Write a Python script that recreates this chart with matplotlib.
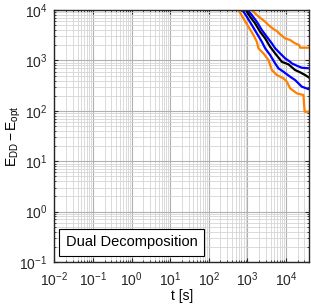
import numpy as np
import matplotlib
matplotlib.use("Agg")
import matplotlib.pyplot as plt
from matplotlib.ticker import LogLocator, NullFormatter

plt.rcParams['font.family'] = ['Liberation Sans', 'DejaVu Sans']
plt.rcParams['mathtext.fontset'] = 'custom'
plt.rcParams['mathtext.rm'] = 'Liberation Sans'
plt.rcParams['mathtext.it'] = 'Liberation Sans:italic'

# curves (t in seconds, E_DD - E_opt)
t_orange_hi = [1100, 1300, 1750, 2360, 2880, 3500, 4720, 5780, 7030, 9480, 12800, 17200, 21900, 23200, 31300, 40000]
e_orange_hi = [12000, 10000, 7960, 6620, 5860, 5040, 4200, 3830, 3300, 2740, 2540, 2180, 2020, 1790, 1790, 1790]

t_blue_hi = [900, 1020, 1300, 1750, 2360, 3180, 4290, 5220, 7030, 9480, 12800, 14100, 19100, 25700, 40000]
e_blue_hi = [12000, 10000, 7960, 5860, 4010, 2950, 2180, 1740, 1380, 1100, 940, 875, 785, 716, 697]

t_black = [800, 910, 1175, 1580, 2130, 2880, 3870, 5220, 7780, 11500, 17200, 23200, 31300, 40000]
e_black = [12000, 10000, 7360, 5440, 3710, 2740, 1870, 1380, 940, 837, 645, 581, 513, 454]

t_blue_lo = [650, 742, 964, 1300, 1750, 2360, 2880, 3870, 5220, 6360, 8570, 12800, 17200, 25700, 40000]
e_blue_lo = [12000, 10000, 7360, 5040, 3450, 2350, 1740, 1280, 875, 697, 597, 475, 408, 301, 267]

t_orange_lo = [520, 585, 787, 1060, 1430, 1750, 1930, 2600, 3500, 4290, 5780, 8570, 10500, 12800, 19100, 28200, 30300, 40000]
e_orange_lo = [12000, 10000, 6840, 4670, 3190, 2350, 1740, 1380, 1020, 645, 513, 442, 378, 279, 222, 206, 96, 96]

orange = '#ff8000'
blue = '#0000ff'

fig = plt.figure(figsize=(3.11, 3.05), dpi=100)
ax = fig.add_axes([0.175, 0.141, 0.8195, 0.826])

ax.plot(t_orange_hi, e_orange_hi, color=orange, lw=1.6)
ax.plot(t_orange_lo, e_orange_lo, color=orange, lw=1.6)
ax.plot(t_blue_hi, e_blue_hi, color=blue, lw=1.6)
ax.plot(t_blue_lo, e_blue_lo, color=blue, lw=1.6)
ax.plot(t_black, e_black, color='black', lw=1.6)

ax.set_xscale('log')
ax.set_yscale('log')
ax.set_xlim(1e-2, 4e4)
ax.set_ylim(1e-1, 1e4)

ax.xaxis.set_major_locator(LogLocator(base=10, numticks=20))
ax.yaxis.set_major_locator(LogLocator(base=10, numticks=20))
ax.xaxis.set_minor_locator(LogLocator(base=10, subs=np.arange(2, 10), numticks=50))
ax.yaxis.set_minor_locator(LogLocator(base=10, subs=np.arange(2, 10), numticks=50))
ax.xaxis.set_minor_formatter(NullFormatter())
ax.yaxis.set_minor_formatter(NullFormatter())

ax.grid(True, which='major', color='#b0b0b0', lw=0.8)
ax.grid(True, which='minor', color='#d4d4d4', lw=0.6)
ax.set_axisbelow(True)

ax.tick_params(which='both', direction='in', top=True, right=True, labelsize=10, colors='#262626')
ax.tick_params(which='major', length=3)
ax.tick_params(which='minor', length=1.5)
ax.tick_params(axis='x', which='major', pad=6)
ax.tick_params(axis='y', which='major', pad=5)
for s in ax.spines.values():
    s.set_color('#262626')
    s.set_linewidth(1.0)

ax.set_xlabel('t [s]', fontsize=10, labelpad=0)
ax.set_ylabel(r'$\mathregular{E_{DD} - E_{opt}}$', fontsize=10, labelpad=-3)

ax.text(0.045, 0.05, 'Dual Decomposition', transform=ax.transAxes, fontsize=10.5,
        ha='left', va='bottom',
        bbox=dict(boxstyle='square,pad=0.45', fc='white', ec='black', lw=0.8))

fig.savefig('out.png', dpi=100)
